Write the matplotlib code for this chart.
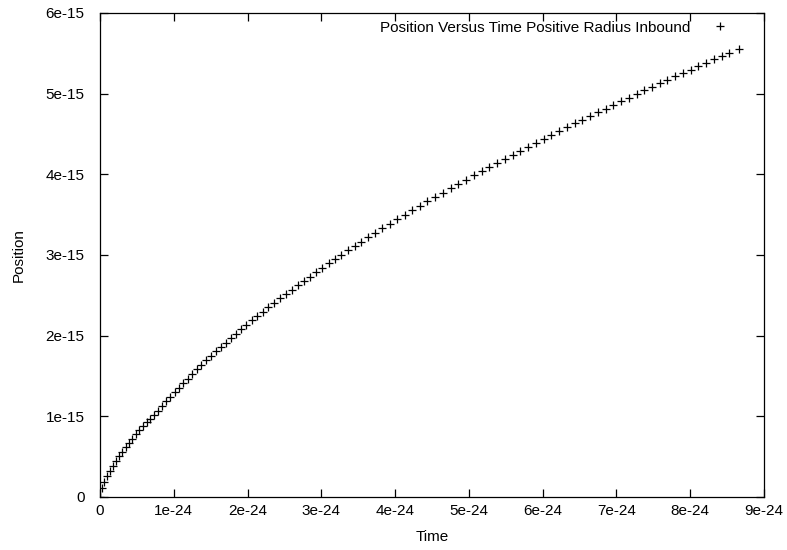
import matplotlib
matplotlib.use("Agg")
import matplotlib.pyplot as plt
import numpy as np
from matplotlib.ticker import FixedLocator, FuncFormatter

# Time in units of 1e-24, position in units of 1e-15
time_e24 = [
    0.000, 0.025, 0.060, 0.098, 0.137, 0.177, 0.218, 0.260, 0.303, 0.347,
    0.392, 0.438, 0.485, 0.533, 0.582, 0.632, 0.683, 0.735, 0.788, 0.842,
    0.897, 0.953, 1.010, 1.068, 1.127, 1.187, 1.248, 1.310, 1.373, 1.437,
    1.502, 1.568, 1.635, 1.703, 1.772, 1.842, 1.913, 1.985, 2.058, 2.132,
    2.207, 2.283, 2.360, 2.438, 2.517, 2.597, 2.678, 2.760, 2.843, 2.927,
    3.012, 3.098, 3.185, 3.273, 3.362, 3.452, 3.543, 3.636, 3.731, 3.828,
    3.927, 4.027, 4.128, 4.230, 4.333, 4.437, 4.542, 4.647, 4.752, 4.857,
    4.962, 5.067, 5.172, 5.277, 5.382, 5.487, 5.592, 5.697, 5.802, 5.907,
    6.012, 6.117, 6.222, 6.327, 6.432, 6.537, 6.642, 6.747, 6.852, 6.957,
    7.062, 7.167, 7.272, 7.377, 7.482, 7.587, 7.692, 7.797, 7.902, 8.007,
    8.112, 8.217, 8.322, 8.427, 8.532, 8.660,
]
position_e15 = [
    0.000, 0.110, 0.180, 0.255, 0.320, 0.385, 0.445, 0.505, 0.560, 0.615,
    0.670, 0.725, 0.775, 0.825, 0.875, 0.925, 0.970, 1.020, 1.072, 1.129,
    1.187, 1.243, 1.300, 1.357, 1.413, 1.469, 1.525, 1.581, 1.637, 1.693,
    1.748, 1.804, 1.859, 1.914, 1.969, 2.024, 2.079, 2.134, 2.189, 2.244,
    2.298, 2.353, 2.408, 2.462, 2.516, 2.571, 2.625, 2.679, 2.733, 2.787,
    2.842, 2.896, 2.950, 3.004, 3.057, 3.111, 3.165, 3.219, 3.274, 3.330,
    3.386, 3.441, 3.497, 3.553, 3.608, 3.664, 3.719, 3.774, 3.828, 3.882,
    3.935, 3.988, 4.040, 4.092, 4.143, 4.194, 4.244, 4.294, 4.343, 4.392,
    4.441, 4.489, 4.537, 4.584, 4.631, 4.678, 4.724, 4.770, 4.816, 4.861,
    4.906, 4.951, 4.996, 5.040, 5.083, 5.127, 5.170, 5.213, 5.256, 5.298,
    5.340, 5.382, 5.424, 5.465, 5.506, 5.556,
]
x_ticks = [0, 1e-24, 2e-24, 3e-24, 4e-24, 5e-24, 6e-24, 7e-24, 8e-24, 9e-24]
y_ticks = [0, 1e-15, 2e-15, 3e-15, 4e-15, 5e-15, 6e-15]

plt.rcParams["font.family"] = ["Liberation Sans", "DejaVu Sans"]

fig = plt.figure(figsize=(7.87, 5.5), dpi=100)
ax = fig.add_axes([100 / 787, 53 / 550, 664 / 787, 484 / 550])

t = np.array(time_e24) * 1e-24
r = np.array(position_e15) * 1e-15
ax.plot(t, r, linestyle="none", marker="+", markersize=5.5, markeredgewidth=0.9,
        color="black", label="Position Versus Time Positive Radius Inbound")

ax.set_xlim(0, 9e-24)
ax.set_ylim(0, 6e-15)
ax.xaxis.set_major_locator(FixedLocator(x_ticks))
ax.yaxis.set_major_locator(FixedLocator(y_ticks))
ax.xaxis.set_major_formatter(FuncFormatter(lambda v, _: f"{v:g}"))
ax.yaxis.set_major_formatter(FuncFormatter(lambda v, _: f"{v:g}"))
ax.tick_params(direction="in", length=6, width=0.9, top=True, right=True,
               labelsize=11)
ax.tick_params(axis="x", pad=5)
ax.tick_params(axis="y", pad=11)
for s in ax.spines.values():
    s.set_linewidth(0.9)

ax.set_xlabel("Time", fontsize=11, labelpad=9)
ax.set_ylabel("Position", fontsize=11, labelpad=14.5)

ax.legend(loc="upper right", bbox_to_anchor=(0.971, 1.003), frameon=False,
          markerfirst=False, fontsize=11, handlelength=2.0, handletextpad=0.96,
          borderaxespad=0.2)

fig.savefig("out.png", dpi=100)
